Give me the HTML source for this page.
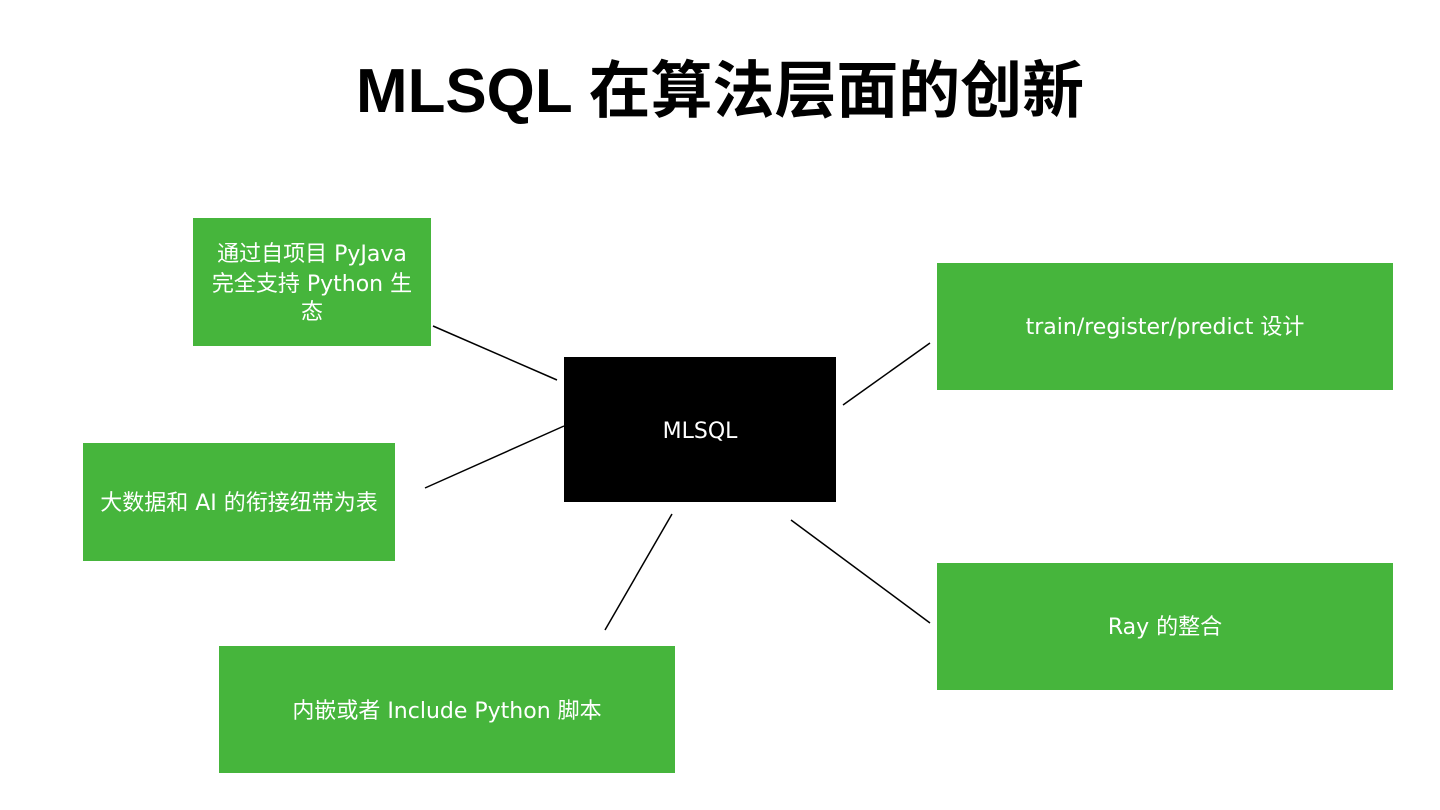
<!DOCTYPE html>
<html><head><meta charset="utf-8"><style>
html,body{margin:0;padding:0;background:#fff;width:1440px;height:810px;overflow:hidden}
</style></head><body>
<svg width="1440" height="810" xmlns="http://www.w3.org/2000/svg">
<rect width="1440" height="810" fill="#fff"/>
<text x="720" y="112" text-anchor="middle" font-family="Liberation Sans, Noto Sans CJK SC, sans-serif" font-weight="bold" font-size="62" textLength="728" lengthAdjust="spacingAndGlyphs" fill="#000">MLSQL 在算法层面的创新</text>
<g stroke="#000" stroke-width="1.5">
<line x1="433" y1="326" x2="557" y2="380"/>
<line x1="425" y1="488" x2="564" y2="426"/>
<line x1="605" y1="630" x2="672" y2="514"/>
<line x1="791" y1="520" x2="930" y2="623"/>
<line x1="843" y1="405" x2="930" y2="343"/>
</g>
<g fill="#46b53c">
<rect x="193" y="218" width="238" height="128"/>
<rect x="83" y="443" width="312" height="118"/>
<rect x="219" y="646" width="456" height="127"/>
<rect x="937" y="263" width="456" height="127"/>
<rect x="937" y="563" width="456" height="127"/>
</g>
<rect x="564" y="357" width="272" height="145" fill="#000"/>
<g font-family="DejaVu Sans, Noto Sans CJK SC, sans-serif" font-size="22" fill="#fff" text-anchor="middle">
<text x="312" y="261">通过自项目 PyJava</text>
<text x="312" y="291">完全支持 Python 生</text>
<text x="312" y="319">态</text>
<text x="239" y="510">大数据和 AI 的衔接纽带为表</text>
<text x="447" y="718">内嵌或者 Include Python 脚本</text>
<text x="1165" y="334">train/register/predict  设计</text>
<text x="1165" y="634">Ray 的整合</text>
<text x="700" y="438">MLSQL</text>
</g>
</svg>
</body></html>
